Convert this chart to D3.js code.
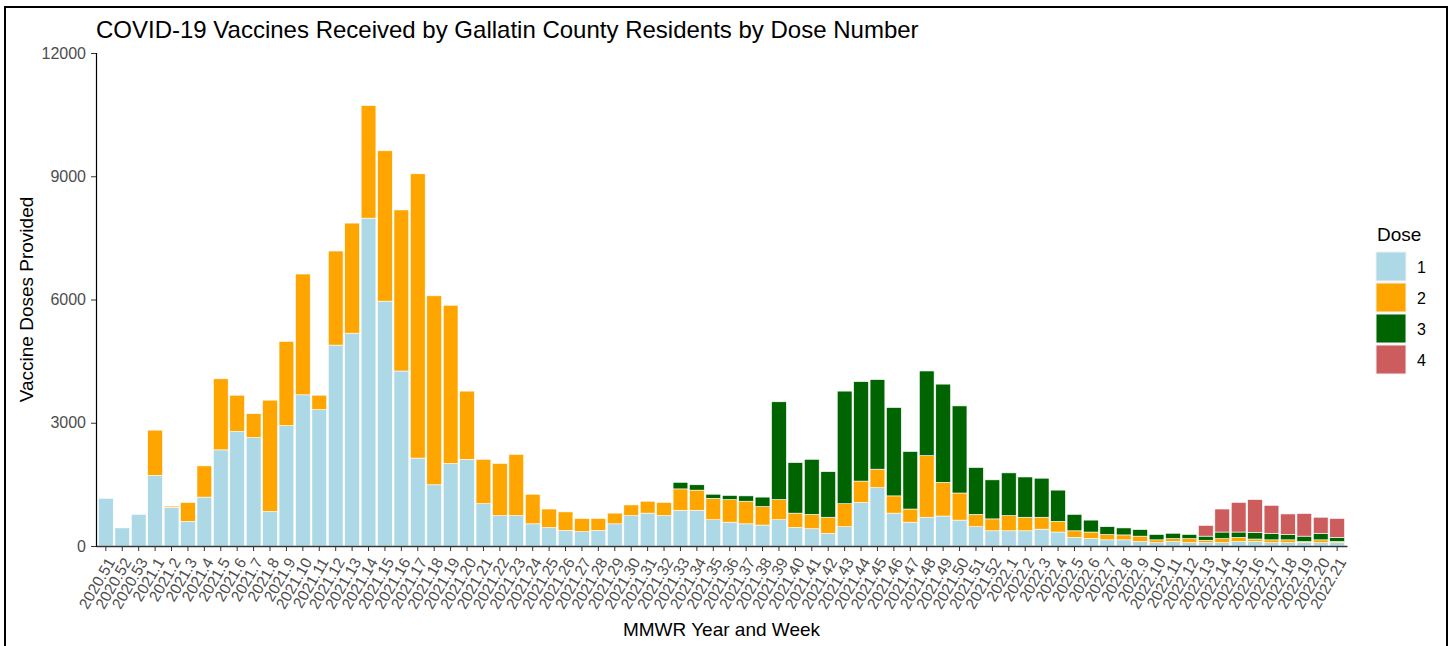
<!DOCTYPE html>
<meta charset="utf-8">
<style>
    body { margin: 0; background: #fff; }
    text { font-family: "Liberation Sans", Arial, sans-serif; }
    .tick text { fill: #4d4d4d; }
</style>
<svg width="1455" height="646"></svg>
<script src="https://d3js.org/d3.v7.min.js"></script>
<script>
    var weeks = ["2020.51", "2020.52", "2020.53",
        "2021.1", "2021.2", "2021.3", "2021.4", "2021.5", "2021.6", "2021.7", "2021.8", "2021.9", "2021.10",
        "2021.11", "2021.12", "2021.13", "2021.14", "2021.15", "2021.16", "2021.17", "2021.18", "2021.19", "2021.20",
        "2021.21", "2021.22", "2021.23", "2021.24", "2021.25", "2021.26", "2021.27", "2021.28", "2021.29", "2021.30",
        "2021.31", "2021.32", "2021.33", "2021.34", "2021.35", "2021.36", "2021.37", "2021.38", "2021.39", "2021.40",
        "2021.41", "2021.42", "2021.43", "2021.44", "2021.45", "2021.46", "2021.47", "2021.48", "2021.49", "2021.50",
        "2021.51", "2021.52",
        "2022.1", "2022.2", "2022.3", "2022.4", "2022.5", "2022.6", "2022.7", "2022.8", "2022.9", "2022.10",
        "2022.11", "2022.12", "2022.13", "2022.14", "2022.15", "2022.16", "2022.17", "2022.18", "2022.19", "2022.20",
        "2022.21"];

    var dose1 = [1160, 440, 770,
        1720, 940, 600, 1190, 2340, 2790, 2640, 840, 2930, 3680,
        3320, 4890, 5180, 7980, 5960, 4260, 2140, 1490, 2010, 2110,
        1030, 740, 740, 540, 450, 380, 350, 380, 540, 740,
        800, 740, 870, 870, 640, 580, 540, 510, 640, 450,
        420, 310, 470, 1060, 1420, 800, 580, 700, 730, 630,
        470, 370,
        370, 370, 410, 340, 210, 180, 150, 150, 110, 80,
        110, 80, 80, 80, 110, 110, 80, 80, 80, 80,
        80];

    var dose2 = [0, 0, 0,
        1100, 30, 460, 760, 1730, 880, 580, 2710, 2050, 2940,
        350, 2290, 2680, 2740, 3660, 3920, 6920, 4600, 3850, 1660,
        1080, 1270, 1490, 720, 450, 450, 320, 290, 260, 260,
        290, 320, 520, 490, 520, 550, 550, 450, 490, 350,
        350, 390, 560, 520, 450, 420, 320, 1500, 820, 660,
        300, 290,
        370, 330, 290, 260, 160, 160, 130, 120, 130, 70,
        70, 100, 60, 100, 100, 60, 70, 70, 30, 70,
        30];

    var dose3 = [0, 0, 0,
        0, 0, 0, 0, 0, 0, 0, 0, 0, 0,
        0, 0, 0, 0, 0, 0, 0, 0, 0, 0,
        0, 0, 0, 0, 0, 0, 0, 0, 0, 0,
        0, 0, 160, 130, 100, 100, 130, 230, 2380, 1230,
        1340, 1110, 2740, 2420, 2180, 2150, 1400, 2060, 2390, 2120,
        1140, 950,
        1040, 980, 950, 760, 400, 290, 190, 170, 160, 130,
        130, 100, 100, 160, 130, 160, 160, 130, 130, 160,
        100];

    var dose4 = [0, 0, 0,
        0, 0, 0, 0, 0, 0, 0, 0, 0, 0,
        0, 0, 0, 0, 0, 0, 0, 0, 0, 0,
        0, 0, 0, 0, 0, 0, 0, 0, 0, 0,
        0, 0, 0, 0, 0, 0, 0, 0, 0, 0,
        0, 0, 0, 0, 0, 0, 0, 0, 0, 0,
        0, 0,
        0, 0, 0, 0, 0, 0, 0, 0, 0, 0,
        0, 0, 260, 560, 720, 800, 680, 500, 550, 390,
        460];

    var doses = ["1", "2", "3", "4"];
    var doseColors = ["#ADD8E6", "#FFA500", "#006400", "#CD5C5C"];
    var yTicks = [0, 3000, 6000, 9000, 12000];

    var rows = weeks.map(function(w, i) {
        return { week: w, "1": dose1[i], "2": dose2[i], "3": dose3[i], "4": dose4[i] };
    });

    var svg = d3.select("svg");
    var plotLeft = 96, plotRight = 1347, plotTop = 53, plotBottom = 546;

    // outer frame
    svg.append("rect")
        .attr("x", 5).attr("y", 7)
        .attr("width", 1442).attr("height", 660)
        .attr("fill", "none").attr("stroke", "#000").attr("stroke-width", 2);

    var x = d3.scaleBand()
        .domain(weeks)
        .range([plotLeft, plotRight])
        .paddingInner(0.1)
        .paddingOuter(0.15);

    var y = d3.scaleLinear()
        .domain([0, 12000])
        .range([plotBottom, plotTop]);

    var color = d3.scaleOrdinal().domain(doses).range(doseColors);

    var series = d3.stack().keys(doses)(rows);

    svg.append("g")
        .selectAll("g")
        .data(series)
        .enter().append("g")
        .attr("fill", function(d) { return color(d.key); })
        .selectAll("rect")
        .data(function(d) { return d.filter(function(p) { return p[1] - p[0] > 0; }); })
        .enter().append("rect")
        .attr("x", function(d) { return x(d.data.week); })
        .attr("width", x.bandwidth())
        .attr("y", function(d) { return y(d[1]); })
        .attr("height", function(d) { return y(d[0]) - y(d[1]); })
        .attr("stroke", "#fff")
        .attr("stroke-width", 0.6);

    // y axis
    var yAxis = svg.append("g")
        .attr("transform", "translate(" + plotLeft + ",0)")
        .call(d3.axisLeft(y).tickValues(yTicks).tickFormat(d3.format("d")).tickSize(5).tickPadding(5));
    yAxis.select(".domain").attr("stroke", "#000").attr("stroke-width", 1.2);
    yAxis.selectAll(".tick line").attr("stroke", "#333");
    yAxis.selectAll(".tick text").style("font-size", "16px");

    // x axis
    var xAxis = svg.append("g")
        .attr("transform", "translate(0," + plotBottom + ")")
        .call(d3.axisBottom(x).tickSize(5).tickSizeOuter(0));
    xAxis.select(".domain").attr("stroke", "#333").attr("stroke-width", 1.6);
    xAxis.selectAll(".tick line").attr("stroke", "#333");
    xAxis.selectAll(".tick text")
        .style("font-size", "15.5px")
        .attr("text-anchor", "end")
        .attr("y", 0)
        .attr("dy", "0.35em")
        .attr("transform", "translate(5,13) rotate(-60)");

    // titles
    svg.append("text")
        .attr("x", plotLeft).attr("y", 38)
        .style("font-size", "24px")
        .attr("fill", "#000")
        .text("COVID-19 Vaccines Received by Gallatin County Residents by Dose Number");

    svg.append("text")
        .attr("transform", "translate(33," + ((plotTop + plotBottom) / 2) + ") rotate(-90)")
        .attr("text-anchor", "middle")
        .style("font-size", "19px")
        .text("Vaccine Doses Provided");

    svg.append("text")
        .attr("x", (plotLeft + plotRight) / 2).attr("y", 636)
        .attr("text-anchor", "middle")
        .style("font-size", "19px")
        .text("MMWR Year and Week");

    // legend
    var legend = svg.append("g").attr("transform", "translate(1376,0)");
    legend.append("text")
        .attr("x", 1).attr("y", 241)
        .style("font-size", "19px")
        .text("Dose");
    var item = legend.selectAll("g.item")
        .data(doses)
        .enter().append("g")
        .attr("class", "item")
        .attr("transform", function(d, i) { return "translate(0," + (252 + i * 31) + ")"; });
    item.append("rect")
        .attr("width", 30).attr("height", 29)
        .attr("fill", function(d) { return color(d); })
        .attr("stroke", "#f2f2f2").attr("stroke-width", 1);
    item.append("text")
        .attr("x", 41).attr("y", 15).attr("dy", "0.35em")
        .style("font-size", "16px")
        .text(function(d) { return d; });
</script>
